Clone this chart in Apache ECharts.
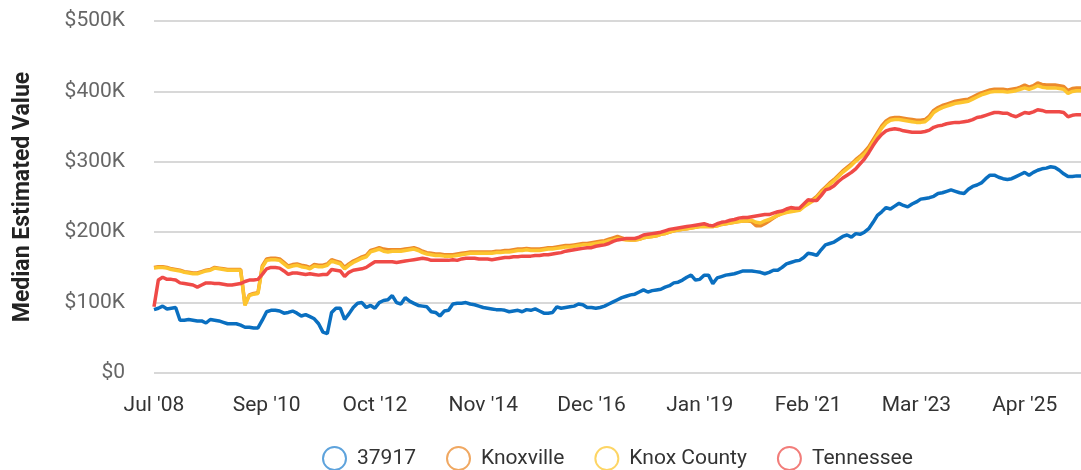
<!DOCTYPE html>
<html>
<head>
<meta charset="utf-8">
<title>Median Estimated Value</title>
<script src="https://cdn.jsdelivr.net/npm/echarts@6/dist/echarts.min.js"></script>
<style>
  html, body { margin: 0; padding: 0; background: #fff; }
  #chart { width: 1081px; height: 470px; }
</style>
</head>
<body>
<div id="chart"></div>
<script>
// monthly values in $K, starting Jul 2008
const monthNames = ["Jan", "Feb", "Mar", "Apr", "May", "Jun", "Jul", "Aug", "Sep", "Oct", "Nov", "Dec"];
const tickLabels = ["Jul '08", "Sep '10", "Oct '12", "Nov '14", "Dec '16", "Jan '19", "Feb '21", "Mar '23", "Apr '25"];
const seriesNames = ["37917", "Knoxville", "Knox County", "Tennessee"];

const zip37917 = [
  90, 92, 95, 91, 92, 93, 75, 75, 76, 75,
  74, 74, 71, 76, 75, 74, 72, 70, 70, 70,
  68, 65, 65, 64, 64, 75, 87, 89, 89, 88,
  85, 86, 88, 85, 81, 83, 80, 77, 70, 58,
  56, 86, 92, 92, 76, 84, 93, 99, 100, 93,
  96, 92, 100, 103, 104, 110, 100, 98, 107, 102,
  99, 96, 95, 94, 87, 86, 81, 88, 89, 98,
  99, 99, 100, 98, 97, 95, 93, 92, 91, 90,
  90, 89, 87, 88, 89, 87, 90, 89, 91, 88,
  85, 85, 86, 94, 92, 93, 94, 95, 98, 97,
  93, 93, 92, 93, 95, 98, 101, 104, 107, 109,
  111, 112, 115, 118, 115, 117, 118, 119, 122, 124,
  128, 129, 132, 136, 139, 132, 133, 139, 139, 127,
  135, 137, 139, 140, 141, 143, 145, 145, 145, 144,
  143, 141, 143, 146, 146, 150, 155, 157, 159, 160,
  164, 170, 169, 167, 175, 182, 184, 186, 190, 194,
  196, 193, 198, 197, 200, 205, 214, 224, 229, 235,
  233, 237, 241, 238, 236, 240, 243, 247, 248, 249,
  251, 255, 256, 258, 260, 258, 256, 255, 261, 265,
  267, 270, 276, 281, 281, 278, 276, 275, 276, 279,
  282, 285, 281, 285, 288, 290, 291, 293, 292, 288,
  283, 279, 279, 280, 280
];

const knoxville = [
  150, 151, 151, 150, 148, 147, 146, 144, 143, 142,
  142, 144, 146, 147, 150, 149, 148, 147, 147, 147,
  147, 97, 111, 113, 114, 152, 162, 163, 163, 162,
  157, 152, 154, 155, 153, 152, 150, 154, 153, 153,
  155, 161, 159, 157, 150, 155, 159, 162, 165, 167,
  174, 176, 178, 176, 175, 175, 175, 175, 176, 177,
  178, 176, 173, 171, 170, 169, 169, 168, 168, 168,
  169, 170, 171, 172, 172, 172, 172, 172, 172, 173,
  173, 174, 174, 175, 176, 176, 177, 176, 176, 176,
  177, 178, 178, 179, 180, 181, 181, 182, 183, 184,
  184, 185, 186, 187, 188, 190, 192, 194, 192, 190,
  189, 189, 190, 192, 193, 194, 195, 197, 198, 200,
  202, 203, 204, 205, 206, 207, 208, 208, 208, 208,
  209, 211, 212, 213, 214, 215, 216, 216, 215, 209,
  209, 212, 216, 220, 224, 227, 229, 230, 231, 232,
  237, 242, 246, 251, 258, 264, 270, 275, 281, 287,
  292, 297, 303, 308, 314, 321, 331, 341, 351, 358,
  362, 363, 363, 362, 361, 360, 359, 359, 360, 365,
  373, 377, 380, 382, 384, 386, 387, 388, 389, 392,
  395, 398, 400, 402, 403, 403, 403, 402, 403, 404,
  406, 409, 406, 408, 412, 410, 409, 409, 409, 408,
  407, 401, 404, 405, 405
];

const knoxCounty = [
  149, 150, 150, 149, 147, 146, 145, 143, 142, 141,
  141, 143, 145, 146, 149, 148, 147, 146, 146, 146,
  146, 96, 110, 112, 113, 150, 160, 161, 161, 160,
  155, 150, 152, 153, 151, 150, 148, 152, 151, 151,
  153, 159, 157, 155, 148, 153, 157, 160, 163, 165,
  172, 174, 176, 173, 172, 173, 173, 173, 174, 175,
  176, 174, 171, 169, 168, 167, 167, 166, 166, 166,
  167, 168, 169, 170, 170, 170, 170, 170, 170, 171,
  171, 172, 172, 173, 174, 174, 175, 174, 174, 174,
  175, 176, 176, 177, 178, 179, 179, 180, 181, 182,
  182, 183, 184, 185, 186, 188, 189, 191, 190, 189,
  189, 189, 190, 192, 193, 194, 195, 197, 198, 200,
  202, 203, 204, 205, 206, 207, 208, 208, 208, 208,
  209, 211, 212, 213, 214, 215, 216, 216, 217, 214,
  213, 216, 218, 221, 224, 226, 228, 229, 230, 231,
  236, 240, 244, 249, 256, 262, 268, 273, 279, 285,
  290, 295, 301, 306, 311, 318, 328, 338, 348, 355,
  359, 360, 360, 359, 358, 357, 356, 356, 357, 362,
  370, 374, 377, 379, 381, 383, 384, 385, 386, 389,
  392, 395, 397, 399, 400, 400, 400, 399, 400, 401,
  403, 405, 403, 405, 408, 406, 405, 405, 405, 404,
  403, 397, 400, 401, 401
];

const tennessee = [
  94, 132, 136, 133, 133, 132, 128, 127, 126, 125,
  122, 125, 128, 128, 127, 127, 126, 125, 125, 126,
  127, 130, 132, 132, 133, 140, 148, 150, 150, 149,
  145, 140, 142, 142, 141, 140, 141, 140, 139, 140,
  140, 147, 146, 145, 137, 143, 146, 147, 148, 150,
  154, 158, 158, 158, 158, 158, 157, 158, 159, 160,
  161, 162, 163, 162, 160, 160, 160, 160, 160, 161,
  160, 162, 163, 163, 163, 162, 162, 162, 161, 162,
  163, 164, 164, 165, 165, 166, 166, 166, 167, 167,
  168, 168, 169, 170, 171, 173, 174, 175, 176, 177,
  178, 178, 180, 181, 182, 184, 187, 189, 190, 191,
  191, 191, 193, 196, 197, 198, 199, 200, 202, 204,
  205, 206, 207, 208, 209, 210, 211, 212, 210, 209,
  212, 214, 215, 217, 218, 220, 221, 221, 222, 223,
  224, 225, 225, 227, 229, 230, 233, 235, 234, 234,
  240, 246, 245, 245, 252, 260, 262, 266, 272, 277,
  281, 285, 290, 297, 304, 313, 323, 332, 339, 344,
  346, 347, 346, 344, 343, 342, 342, 342, 343, 345,
  349, 351, 352, 354, 355, 356, 356, 357, 358, 360,
  363, 364, 366, 368, 370, 370, 369, 369, 366, 364,
  367, 370, 369, 371, 374, 373, 371, 371, 371, 371,
  370, 364, 366, 367, 367
];

// month labels like "Jul '08"
const categories = [];
for (let i = 0; i < zip37917.length; i++) {
  const m = (6 + i) % 12;
  const y = 2008 + Math.floor((6 + i) / 12);
  categories.push(monthNames[m] + " '" + String(y).slice(2));
}

const colors = ["#0a6fc0", "#ec8a2b", "#fdc52f", "#ef4a47"];
const ringColors = ["#5ea3dc", "#f0a862", "#fdd564", "#f27d7a"];
const allData = [zip37917, knoxville, knoxCounty, tennessee];

const chart = echarts.init(document.getElementById("chart"));

const option = {
  animation: false,
  textStyle: { fontFamily: "Roboto" },
  grid: {
    left: 154,
    right: -2,
    top: 21,
    bottom: 97
  },
  legend: {
    left: 317,
    top: 441,
    itemWidth: 23,
    itemHeight: 23,
    itemGap: 30,
    icon: "circle",
    textStyle: {
      fontSize: 21,
      color: "#333",
      fontFamily: "Roboto",
      padding: [0, 0, 0, 6]
    },
    data: seriesNames.map((name, i) => ({
      name: name,
      itemStyle: { color: "#fff", borderColor: ringColors[i], borderWidth: 2 }
    }))
  },
  xAxis: {
    type: "category",
    boundaryGap: false,
    data: categories,
    axisLine: { show: false },
    axisTick: { show: false },
    splitLine: { show: false },
    axisLabel: {
      interval: (index, value) => tickLabels.includes(value),
      color: "#333",
      fontSize: 21,
      margin: 22,
      fontFamily: "Roboto"
    }
  },
  yAxis: {
    type: "value",
    min: 0,
    max: 500,
    interval: 100,
    name: "Median Estimated Value",
    nameLocation: "middle",
    nameGap: 119,
    nameTextStyle: {
      fontSize: 23,
      fontWeight: "bold",
      color: "#222",
      fontFamily: "Roboto"
    },
    axisLine: { show: false },
    axisTick: { show: false },
    splitLine: { lineStyle: { color: "#d8d8d8", width: 2 } },
    axisLabel: {
      margin: 29,
      color: "#666",
      fontSize: 21,
      fontFamily: "Roboto",
      formatter: v => (v === 0 ? "$0" : "$" + v + "K")
    }
  },
  series: seriesNames.map((name, i) => ({
    name: name,
    type: "line",
    data: allData[i],
    showSymbol: false,
    symbol: "circle",
    itemStyle: { color: colors[i] },
    lineStyle: { color: colors[i], width: 3.5 }
  }))
};

chart.setOption(option);
</script>
</body>
</html>
